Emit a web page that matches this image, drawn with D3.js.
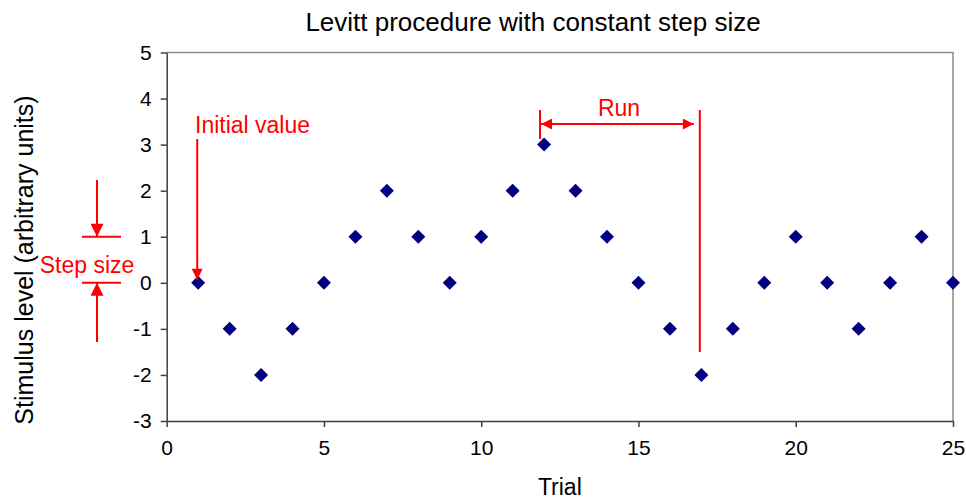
<!DOCTYPE html>
<html>
<head>
<meta charset="utf-8">
<script src="https://cdn.jsdelivr.net/npm/d3@7"></script>
<style>
  body { margin: 0; background: #fff; }
  text { font-family: "Liberation Sans", Arial, sans-serif; }
</style>
</head>
<body>
<div class="chart"></div>
<script>
var width = 966;
var height = 501;

// data
var trials = [1,2,3,4,5,6,7,8,9,10,11,12,13,14,15,16,17,18,19,20,21,22,23,24,25];
var levels = [0,-1,-2,-1,0,1,2,1,0,1,2,3,2,1,0,-1,-2,-1,0,1,0,-1,0,1,0];
var xTicks = [0,5,10,15,20,25];
var yTicks = [-3,-2,-1,0,1,2,3,4,5];

var margin = {top: 52.5, right: 13, bottom: 80, left: 166.7};

var svg = d3.select('.chart')
	.append('svg')
	.attr('width', width)
	.attr('height', height);

var x = d3.scaleLinear().domain([0, 25]).range([margin.left, width - margin.right]);
var y = d3.scaleLinear().domain([-3, 5]).range([height - margin.bottom, margin.top]);

var red = '#ff0000';

var defs = svg.append('defs');
function arrowHead(id, w, h){
	defs.append('marker')
		.attr('id', id)
		.attr('viewBox', '0 0 10 10')
		.attr('refX', 10)
		.attr('refY', 5)
		.attr('markerUnits', 'userSpaceOnUse')
		.attr('markerWidth', w)
		.attr('markerHeight', h)
		.attr('orient', 'auto-start-reverse')
		.append('path')
		.attr('d', 'M0,0L10,5L0,10Z')
		.attr('fill', red);
}
arrowHead('head', 16, 11);
arrowHead('bighead', 19, 13);

// plot area border (top and right)
svg.append('path')
	.attr('d', 'M' + x(0) + ',' + y(5) + 'H' + x(25) + 'V' + y(-3))
	.attr('fill', 'none')
	.attr('stroke', '#8a8a8a')
	.attr('stroke-width', 1.5);

var xAxis = svg.append('g')
	.attr('transform', 'translate(0,' + y(-3) + ')')
	.call(d3.axisBottom(x).tickValues(xTicks).tickSize(6).tickPadding(13).tickSizeOuter(0));

var yAxis = svg.append('g')
	.attr('transform', 'translate(' + x(0) + ',0)')
	.call(d3.axisLeft(y).tickValues(yTicks).tickSize(6).tickPadding(9).tickSizeOuter(0));

[xAxis, yAxis].forEach(function(g){
	g.select('.domain').attr('stroke', '#404040').attr('stroke-width', 1.5);
	g.selectAll('.tick line').attr('stroke', '#404040').attr('stroke-width', 1.5);
	g.selectAll('.tick text')
		.attr('fill', '#000')
		.attr('font-size', '21px')
		.attr('font-family', '"Liberation Sans", Arial, sans-serif')
		.text(function(d){ return d < 0 ? '-' + Math.abs(d) : d; });
});

// titles
svg.append('text')
	.attr('x', 533)
	.attr('y', 31)
	.attr('text-anchor', 'middle')
	.attr('font-size', '26px')
	.text('Levitt procedure with constant step size');

svg.append('text')
	.attr('x', (x(0) + x(25)) / 2)
	.attr('y', 495)
	.attr('text-anchor', 'middle')
	.attr('font-size', '23px')
	.text('Trial');

svg.append('text')
	.attr('transform', 'translate(33,' + 260 + ') rotate(-90)')
	.attr('text-anchor', 'middle')
	.attr('font-size', '25px')
	.text('Stimulus level (arbitrary units)');

// points
svg.selectAll('.pt')
	.data(trials)
	.enter().append('path')
	.attr('class', 'pt')
	.attr('d', d3.symbol().type(d3.symbolSquare).size(98))
	.attr('transform', function(d, i){
		return 'translate(' + x(d) + ',' + y(levels[i]) + ') rotate(45)';
	})
	.attr('fill', '#000080');

// annotations
function line(x1, y1, x2, y2){
	return svg.append('line')
		.attr('x1', x1).attr('y1', y1)
		.attr('x2', x2).attr('y2', y2)
		.attr('stroke', red)
		.attr('stroke-width', 2);
}
function label(tx, ty, str, anchor){
	svg.append('text')
		.attr('x', tx).attr('y', ty)
		.attr('text-anchor', anchor || 'start')
		.attr('fill', red)
		.attr('font-size', '23px')
		.text(str);
}

// initial value
label(x(0.9), 133, 'Initial value');
line(x(0.97), 139, x(0.97), y(0) - 3).attr('marker-end', 'url(#head)');

// step size
line(82, y(1), 121, y(1));
line(82, y(0), 121, y(0));
line(97, 180, 97, y(1)).attr('marker-end', 'url(#bighead)');
line(97, 342, 97, y(0)).attr('marker-end', 'url(#bighead)');
label(87, 273, 'Step size', 'middle');

// run
line(x(11.87), 110, x(11.87), 139);
line(x(16.95), 110, x(16.95), 352);
line(x(11.87) + 1, 124, x(16.95) - 6, 124)
	.attr('marker-start', 'url(#head)')
	.attr('marker-end', 'url(#head)');
label(619, 116, 'Run', 'middle');
</script>
</body>
</html>
